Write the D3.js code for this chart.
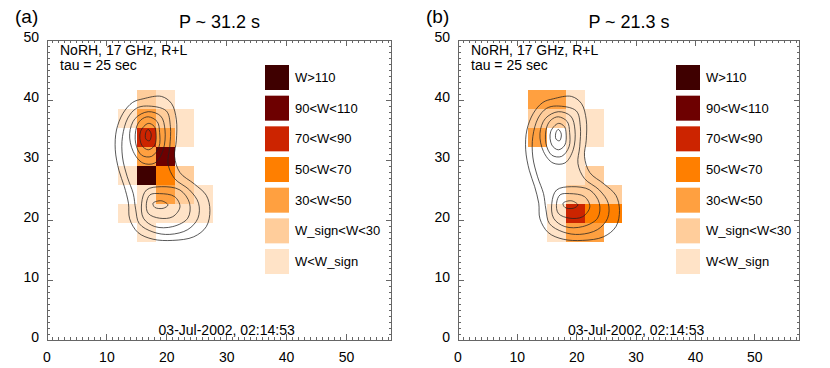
<!DOCTYPE html>
<html>
<head>
<meta charset="utf-8">
<script src="https://cdn.jsdelivr.net/npm/d3@7"></script>
<style>
  body { margin: 0; background: #fff; }
  svg { display: block; font-family: "Liberation Sans", Arial, Helvetica, sans-serif; }
</style>
</head>
<body>
<svg id="chart" width="830" height="368"></svg>
<script>
// tick labels
const xTicks = [0, 10, 20, 30, 40, 50];
const yTicks = [0, 10, 20, 30, 40, 50];

// legend (top to bottom), level 7 .. 1
const legendLabels = ["W>110", "90<W<110", "70<W<90", "50<W<70", "30<W<50", "W_sign<W<30", "W<W_sign"];
const levelColors = [null, "#ffe3c7", "#ffcd9b", "#ffa040", "#ff7f00", "#cc2400", "#6d0000", "#3f0000"];

const panelTags = ["(a)", "(b)"];
const panelTitles = ["P ~ 31.2 s", "P ~ 21.3 s"];
const infoLines = ["NoRH, 17 GHz, R+L", "tau = 25 sec"];
const dateLabel = "03-Jul-2002, 02:14:53";

// oscillation-power pixels: rows from top, columns from left, value = level (0 = none)
const gridX0 = 11.85, gridY0 = 41.67, cellSize = 3.17;
const gridA = [
  [0, 2, 1, 0, 0],
  [1, 3, 2, 1, 0],
  [0, 5, 3, 1, 0],
  [0, 3, 6, 0, 0],
  [1, 7, 4, 2, 0],
  [0, 1, 3, 2, 1],
  [1, 1, 1, 1, 1],
  [0, 1, 0, 0, 0]
];
const gridB = [
  [3, 3, 1, 0, 0],
  [2, 2, 1, 1, 0],
  [3, 0, 1, 1, 0],
  [0, 0, 1, 0, 0],
  [0, 0, 1, 2, 0],
  [0, 0, 2, 2, 2],
  [0, 1, 5, 4, 4],
  [0, 1, 3, 3, 0]
];

// 17 GHz brightness contours (same map in both panels)
const contourOuter = [[16.05,40.2],[19.1,40.6],[20.8,39.4],[21.6,36.7],[21.6,33.3],[21.3,30.6],[22.2,27.9],[24.6,26.0],[26.6,24.1],[27.2,21.6],[26.6,18.9],[24.5,17.2],[21.0,16.6],[17.7,16.8],[15.2,17.9],[13.8,20.2],[13.6,22.8],[12.9,25.6],[12.0,28.3],[11.4,31.7],[11.6,35.0],[12.7,37.8],[14.3,39.6]];
const contourSecond = [[16.6,39.0],[19.9,38.2],[20.6,35.6],[20.5,32.2],[20.2,29.4],[21.3,26.9],[23.8,25.0],[25.3,22.8],[25.2,20.3],[23.5,18.4],[20.5,17.6],[17.7,18.0],[15.4,19.4],[14.8,21.8],[14.4,24.4],[13.4,27.2],[12.6,30.5],[12.6,33.9],[13.5,37.0],[14.9,38.6]];
const contourUp4 = [[16.9,38.05],[19.0,37.3],[19.7,35.0],[19.4,31.7],[18.0,29.5],[16.0,29.5],[14.4,31.4],[13.8,34.4],[14.7,36.9]];
const contourUp3 = [[16.9,37.2],[18.4,36.4],[18.8,34.6],[18.7,32.2],[17.45,30.6],[15.8,30.8],[14.8,32.8],[14.95,35.5],[15.7,36.7]];
const contourUp2 = [[16.9,36.1],[17.9,35.6],[18.2,34.5],[18.0,32.5],[16.9,31.7],[15.8,32.5],[15.6,34.7]];
const contourUp1 = [[16.9,35.1],[17.4,34.3],[17.1,33.2],[16.5,33.5],[16.5,34.6]];
const contourLow3 = [[19.1,25.55],[22.2,25.0],[23.8,22.8],[23.5,20.3],[21.0,18.9],[18.0,18.9],[16.1,20.3],[15.8,22.8],[16.6,25.0]];
const contourLow2 = [[18.8,24.4],[21.3,23.9],[22.2,22.2],[21.0,20.55],[18.8,20.3],[16.9,21.1],[16.6,22.8],[17.2,24.2]];
const contourLow1 = [[17.7,22.8],[19.1,23.2],[20.2,22.5],[19.4,21.95],[18.0,22.1]];
const contours = [contourOuter, contourSecond, contourUp4, contourUp3, contourUp2, contourUp1, contourLow3, contourLow2, contourLow1];

const svg = d3.select("#chart");
const panels = [
  {left: 47, right: 392, grid: gridA},
  {left: 458, right: 800, grid: gridB}
];
const plotTop = 40, plotBottom = 340;
const frameCol = "#666";

panels.forEach((p, k) => {
  const x = d3.scaleLinear().domain([0, 57.6]).range([p.left, p.right]);
  const y = d3.scaleLinear().domain([0, 50]).range([plotBottom, plotTop]);
  const g = svg.append("g");

  // cells
  const cells = [];
  p.grid.forEach((row, j) => row.forEach((v, i) => { if (v > 0) cells.push({i, j, v}); }));
  g.selectAll("rect.cell").data(cells).join("rect").attr("class", "cell")
    .attr("x", d => x(gridX0 + d.i * cellSize))
    .attr("width", d => x(gridX0 + (d.i + 1) * cellSize) - x(gridX0 + d.i * cellSize))
    .attr("y", d => y(gridY0 - d.j * cellSize))
    .attr("height", d => y(gridY0 - (d.j + 1) * cellSize) - y(gridY0 - d.j * cellSize))
    .attr("fill", d => levelColors[d.v])
    .attr("shape-rendering", "crispEdges");

  // contours
  const line = d3.line().x(d => x(d[0])).y(d => y(d[1])).curve(d3.curveCatmullRomClosed.alpha(0.5));
  g.selectAll("path.cont").data(contours).join("path").attr("class", "cont")
    .attr("d", line).attr("fill", "none").attr("stroke", "#222").attr("stroke-width", 0.75);

  // frame + ticks (inward on all sides)
  g.append("rect").attr("x", p.left + 0.5).attr("y", plotTop + 0.5)
    .attr("width", p.right - p.left - 1).attr("height", plotBottom - plotTop)
    .attr("fill", "none").attr("stroke", frameCol);
  const xMinor = d3.range(1, 58), yMinor = d3.range(1, 50);
  const tk = g.append("g").attr("stroke", frameCol).attr("shape-rendering", "crispEdges");
  xMinor.forEach(v => {
    const len = v % 10 === 0 ? 6 : 3;
    tk.append("line").attr("x1", x(v)).attr("x2", x(v)).attr("y1", plotBottom).attr("y2", plotBottom - len);
    tk.append("line").attr("x1", x(v)).attr("x2", x(v)).attr("y1", plotTop).attr("y2", plotTop + len);
  });
  yMinor.forEach(v => {
    const len = v % 10 === 0 ? 6 : 3;
    tk.append("line").attr("x1", p.left).attr("x2", p.left + len).attr("y1", y(v)).attr("y2", y(v));
    tk.append("line").attr("x1", p.right).attr("x2", p.right - len).attr("y1", y(v)).attr("y2", y(v));
  });

  g.selectAll("text.xt").data(xTicks).join("text").attr("class", "xt")
    .attr("x", d => x(d)).attr("y", 362).attr("text-anchor", "middle")
    .attr("font-size", 14).text(d => d);
  g.selectAll("text.yt").data(yTicks).join("text").attr("class", "yt")
    .attr("x", p.left - 8).attr("y", d => y(d) + 2).attr("text-anchor", "end")
    .attr("font-size", 14).text(d => d);

  // titles
  svg.append("text").attr("x", p.left - 32).attr("y", 23).attr("font-size", 19).text(panelTags[k]);
  svg.append("text").attr("x", (p.left + p.right) / 2).attr("y", 28).attr("text-anchor", "middle")
    .attr("font-size", 18).text(panelTitles[k]);
  infoLines.forEach((t, n) => {
    g.append("text").attr("x", p.left + 13).attr("y", 55 + n * 15).attr("font-size", 14).text(t);
  });
  g.append("text").attr("x", x(30)).attr("y", 335).attr("text-anchor", "middle")
    .attr("font-size", 14).text(dateLabel);

  // legend
  const lg = g.append("g");
  legendLabels.forEach((t, n) => {
    const yy = 65 + n * 30.67;
    lg.append("rect").attr("x", p.left + 218).attr("y", yy).attr("width", 24).attr("height", 25)
      .attr("fill", levelColors[7 - n]);
    lg.append("text").attr("x", p.left + 248).attr("y", yy + 17).attr("font-size", 13).text(t);
  });
});
</script>
</body>
</html>
